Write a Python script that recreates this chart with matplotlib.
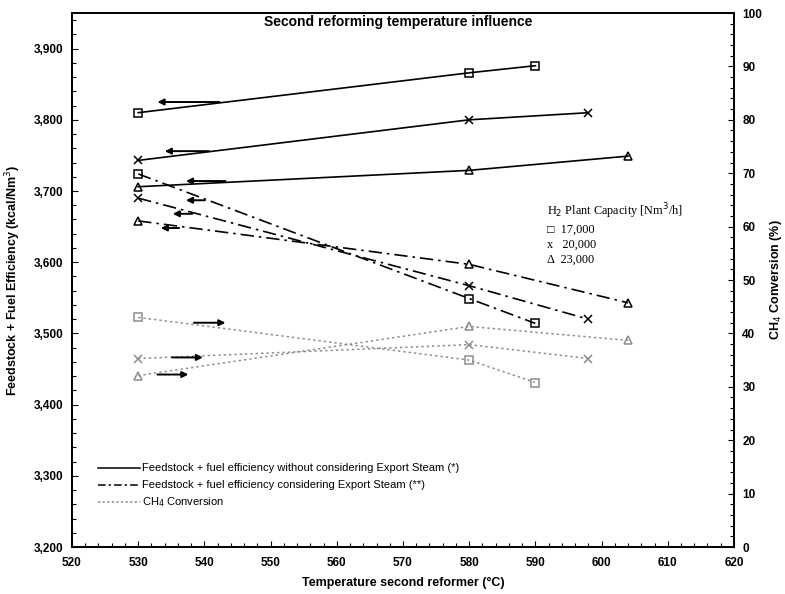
import matplotlib.pyplot as plt
from matplotlib.ticker import MultipleLocator, FuncFormatter

# temperatures (°C) per plant capacity
temp_17 = [530, 580, 590]
temp_20 = [530, 580, 598]
temp_23 = [530, 580, 604]

# feedstock + fuel efficiency without export steam (kcal/Nm3)
eff_17 = [3810, 3866, 3876]
eff_20 = [3743, 3800, 3810]
eff_23 = [3706, 3729, 3749]

# feedstock + fuel efficiency with export steam (kcal/Nm3)
eff_exp_17 = [3724, 3549, 3514]
eff_exp_20 = [3690, 3567, 3520]
eff_exp_23 = [3658, 3597, 3543]

# CH4 conversion (%)
conv_17 = [43.0, 35.0, 30.8]
conv_20 = [35.3, 37.9, 35.3]
conv_23 = [32.1, 41.3, 38.7]

# arrow annotations: (x_start, x_end, y) in data units
arrows_left = [
    (542.7, 532.5, 3825),
    (541.1, 533.6, 3756),
    (543.6, 536.8, 3714),
    (540.5, 536.8, 3687),
    (538.6, 534.8, 3668),
    (536.6, 533.0, 3648),
]
arrows_right = [(538.0, 543.6, 42.0), (534.7, 540.2, 35.5), (532.5, 538.0, 32.3)]

plt.rcParams["font.family"] = ["Liberation Sans", "DejaVu Sans"]

fig = plt.figure(figsize=(7.85, 5.94), dpi=100)
ax = fig.add_axes([0.0917, 0.0791, 0.8433, 0.899])
ax2 = ax.twinx()

mk = dict(markersize=5.5, markerfacecolor="none", markeredgewidth=1.1)
for t, e, m in [(temp_17, eff_17, "s"), (temp_20, eff_20, "x"), (temp_23, eff_23, "^")]:
    ax.plot(t, e, color="black", lw=1.2, ls="-", marker=m, **mk)
for t, e, m in [(temp_17, eff_exp_17, "s"), (temp_20, eff_exp_20, "x"), (temp_23, eff_exp_23, "^")]:
    ax.plot(t, e, color="black", lw=1.2, ls=(0, (8, 3, 1.5, 3)), marker=m, **mk)
for t, c, m in [(temp_17, conv_17, "s"), (temp_20, conv_20, "x"), (temp_23, conv_23, "^")]:
    ax2.plot(t, c, color="#8c8c8c", lw=1.1, ls=(0, (1.5, 2)), marker=m, **mk)

for x0, x1, y in arrows_left:
    ax.annotate("", xy=(x1, y), xytext=(x0, y),
                arrowprops=dict(arrowstyle="-|>", color="black", lw=1.4, mutation_scale=9))
for x0, x1, y in arrows_right:
    ax2.annotate("", xy=(x1, y), xytext=(x0, y),
                 arrowprops=dict(arrowstyle="-|>", color="black", lw=1.4, mutation_scale=9))

ax.set_xlim(520, 620)
ax.set_ylim(3200, 3950)
ax2.set_ylim(0, 100)
ax.xaxis.set_major_locator(MultipleLocator(10))
ax.xaxis.set_minor_locator(MultipleLocator(2))
ax.yaxis.set_major_locator(MultipleLocator(100))
ax.yaxis.set_minor_locator(MultipleLocator(20))
ax2.yaxis.set_major_locator(MultipleLocator(10))
ax2.yaxis.set_minor_locator(MultipleLocator(2))
ax.yaxis.set_major_formatter(FuncFormatter(lambda v, p: f"{int(v):,}"))

for a in (ax, ax2):
    a.tick_params(which="both", direction="in", labelsize=8.5, width=0.8)
    a.tick_params(which="major", length=4)
    a.tick_params(which="minor", length=3)
    for lab in a.get_xticklabels() + a.get_yticklabels():
        lab.set_fontweight("bold")
    for s in a.spines.values():
        s.set_linewidth(1.3)
ax.tick_params(axis="x", pad=7)
ax.tick_params(axis="y", pad=6)
ax2.tick_params(axis="y", pad=6)

ax.set_xlabel("Temperature second reformer (°C)", fontsize=9, fontweight="bold", labelpad=6)
ax.set_ylabel("Feedstock + Fuel Efficiency (kcal/Nm$^3$)", fontsize=9, fontweight="bold", labelpad=8)
ax2.set_ylabel("CH$_4$ Conversion (%)", fontsize=9, fontweight="bold", labelpad=4)

ax.text(0.493, 0.983, "Second reforming temperature influence", transform=ax.transAxes,
        ha="center", va="center", fontsize=10, fontweight="bold")

# bottom-left line style legend
legend_rows = [
    ("-", "black", "Feedstock + fuel efficiency without considering Export Steam (*)"),
    ((0, (5, 2, 1.5, 2)), "black", "Feedstock + fuel efficiency considering Export Steam (**)"),
    ((0, (1.5, 1.5)), "#8c8c8c", "CH$_4$ Conversion"),
]
for i, (ls, col, txt) in enumerate(legend_rows):
    y = 0.148 - i * 0.032
    ax.plot([0.039, 0.103], [y, y], transform=ax.transAxes, color=col, ls=ls, lw=1.1)
    ax.text(0.1057, y, txt, transform=ax.transAxes, va="center", fontsize=8)

# capacity legend (serif)
serif = ["Liberation Serif", "DejaVu Serif"]
cap_rows = ["\u25a1  17,000", "x   20,000", "\u0394  23,000"]
ax.text(0.7175, 0.628, "H$_2$ Plant Capacity [Nm$^3$/h]", transform=ax.transAxes,
        fontsize=8.8, family=serif, va="center")
for i, txt in enumerate(cap_rows):
    ax.text(0.7175, 0.594 - i * 0.028, txt, transform=ax.transAxes, fontsize=8.8,
            family=serif, va="center")

fig.savefig("out.png", dpi=100)
